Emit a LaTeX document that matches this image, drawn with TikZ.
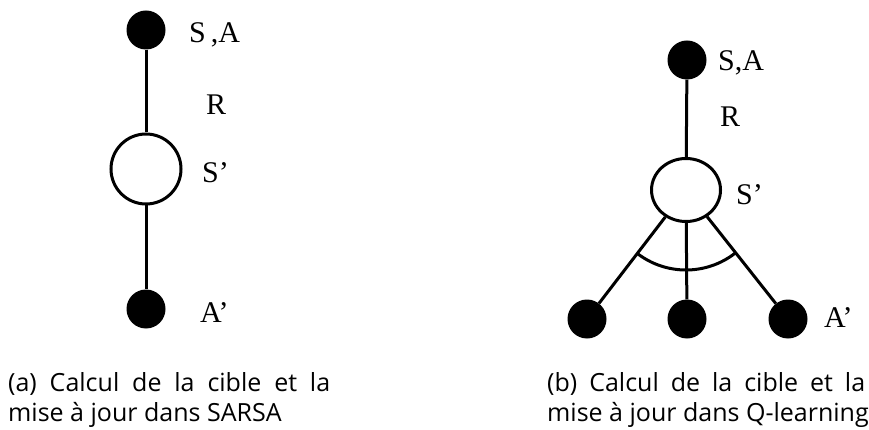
\documentclass[tikz,border=0pt]{standalone}
\usepackage{fontspec}
\setmainfont{Liberation Serif}
\newfontfamily\capfont{Open Sans}
\usetikzlibrary{shapes.geometric}
\begin{document}
\begin{tikzpicture}[x=1pt,y=-1pt,
  fillnode/.style={circle,fill=black,minimum size=39pt,inner sep=0pt},
  opennode/.style={circle,draw=black,line width=3pt,fill=white,minimum size=70pt,inner sep=0pt},
  openell/.style={ellipse,draw=black,line width=3pt,fill=white,minimum width=69pt,minimum height=63pt,inner sep=0pt},
  conn/.style={line width=3pt},
  lab/.style={font=\fontsize{30}{30}\selectfont,anchor=base west,inner sep=0pt},
  captext/.style={font=\capfont\fontsize{25}{30}\selectfont,anchor=base west,inner sep=0pt}]
\useasboundingbox (0,0) rectangle (869,430);
% (a) SARSA
\node[fillnode] (sa1) at (146,30) {};
\node[opennode] (s1) at (146,169) {};
\node[fillnode] (a1) at (146,309) {};
\draw[conn] (sa1) -- (s1);
\draw[conn] (s1) -- (a1);
\node[lab] (lsa1) at (189,43) {S\,,A};
\node[lab] (lr1) at (206,115) {R};
\node[lab] (ls1) at (202,183) {S’};
\node[lab] (la1) at (200,322) {A’};
% (b) Q-learning
\node[fillnode] (sa2) at (687,60) {};
\node[openell] (s2) at (686,190) {};
\node[fillnode] (b1) at (587,319) {};
\node[fillnode] (b2) at (687,319) {};
\node[fillnode] (b3) at (788,319) {};
\draw[conn] (sa2) -- (s2);
\draw[conn] (s2) -- (b1);
\draw[conn] (s2) -- (b2);
\draw[conn] (s2) -- (b3);
\draw[conn] (s2.center) ++(128:80) arc[start angle=128,end angle=52,radius=80];
\node[lab] (lsa2) at (718,71) {S,A};
\node[lab] (lr2) at (720,127) {R};
\node[lab] (ls2) at (736,205) {S’};
\node[lab] (la2) at (824,327) {A’};
% captions
\node[captext] (ca1) at (8,391) {\makebox[322pt][s]{(a) Calcul de la cible et la}};
\node[captext] (ca2) at (8,421) {mise à jour dans SARSA};
\node[captext] (cb1) at (547,391) {\makebox[318pt][s]{(b) Calcul de la cible et la}};
\node[captext] (cb2) at (547,421) {mise à jour dans Q-learning};
\end{tikzpicture}
\end{document}
